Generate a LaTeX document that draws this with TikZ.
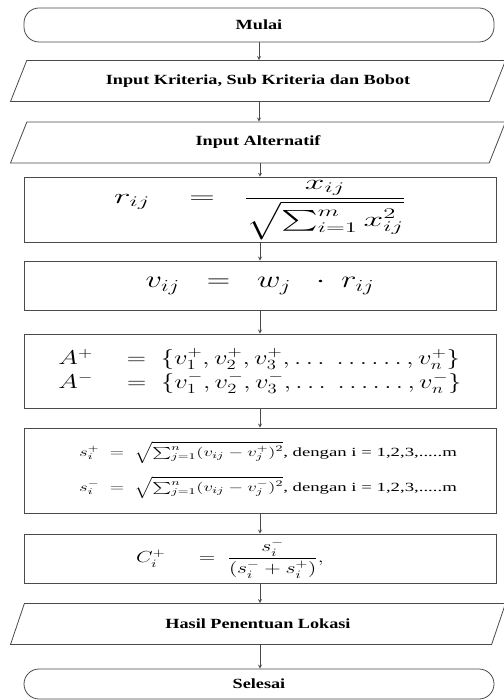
\documentclass[tikz,border=0pt]{standalone}
\usepackage{fix-cm}
\usepackage{amsmath}
\usepackage{graphicx}
\usepackage{fontspec}
\setmainfont{Liberation Serif}
\usepackage{tikz}
\usetikzlibrary{shapes.geometric}
\definecolor{garisAbu}{HTML}{4A4A4A}
% stretch text sideways, as the flowchart prints it
\newcommand{\lebar}[2][1.3]{\scalebox{#1}[1]{#2}}

\begin{document}
\begin{tikzpicture}[x=1pt,y=-1pt,>=stealth,
  terminal/.style={draw=garisAbu, line width=0.8pt, rounded corners=15pt,
    minimum width=470pt, minimum height=#1, font=\fontsize{14}{16}\selectfont\bfseries},
  masukan/.style={draw=garisAbu, line width=0.8pt, trapezium, trapezium left angle=50,
    trapezium right angle=130, trapezium stretches body, minimum width=495pt,
    minimum height=41pt, font=\fontsize{14}{16}\selectfont\bfseries},
  proses/.style={draw=garisAbu, line width=0.8pt, minimum width=472pt, minimum height=#1},
  panah/.style={->, garisAbu, line width=0.8pt}]
  \useasboundingbox (0,0) rectangle (503,700);
  % ---- start and inputs ----
  \node[terminal=34pt] (mulai) at (259,25) {\lebar{Mulai}};
  \node[masukan] (kriteria) at (258,81) {\lebar{Input Kriteria, Sub Kriteria dan Bobot}};
  \node[masukan] (alternatif) at (258,142.5) {\lebar{Input Alternatif}};
  % ---- TOPSIS steps ----
  \node[proses=62pt, font=\fontsize{21}{24}\selectfont] (normal) at (260,210)
    {\lebar[1.68]{$r_{ij} \;\;\;=\;\; \dfrac{x_{ij}}{\sqrt{\textstyle\sum_{i=1}^{m} x_{ij}^{2}}}$}};
  \node[proses=49pt, font=\fontsize{24}{28}\selectfont] (bobot) at (260,285.5)
    {\lebar[1.35]{$v_{ij} \;\;=\;\; w_{j} \;\;\cdot\; r_{ij}$}};
  \node[proses=74pt, font=\fontsize{20}{24}\selectfont, align=left] (ideal) at (260,371)
    {\lebar[1.33]{$A^{+} \quad=\; \{v_1^{+}, v_2^{+}, v_3^{+}, \ldots\;\ldots\ldots, v_n^{+}\}$}\\
     \lebar[1.33]{$A^{-} \quad=\; \{v_1^{-}, v_2^{-}, v_3^{-}, \ldots\;\ldots\ldots, v_n^{-}\}$}};
  \node[proses=85pt, font=\fontsize{12.5}{15}\selectfont, align=center] (jarak) at (260,470.5)
    {\hspace*{16pt}\lebar[1.5]{$s_i^{+} \;=\; \sqrt{\textstyle\sum_{j=1}^{n}(v_{ij}-v_j^{+})^2}$, dengan i = 1,2,3,.....m}\\[12pt]
     \hspace*{16pt}\lebar[1.5]{$s_i^{-} \;=\; \sqrt{\textstyle\sum_{j=1}^{n}(v_{ij}-v_j^{-})^2}$, dengan i = 1,2,3,.....m}};
  \node[proses=49pt, font=\fontsize{16}{19}\selectfont] (pref) at (260,558.5)
    {\lebar[1.35]{$C_i^{+} \quad\;=\; \dfrac{s_i^{-}}{(s_i^{-} + s_i^{+})},$}\kern60pt};
  % ---- output and end ----
  \node[masukan] (hasil) at (258,624) {\lebar{Hasil Penentuan Lokasi}};
  \node[terminal=30pt] (selesai) at (259,684) {\lebar{Selesai}};
  % connectors
  \draw[panah] (mulai.south) -- (mulai.south |- kriteria.north);
  \draw[panah] (kriteria.south -| mulai.south) -- (mulai.south |- alternatif.north);
  \draw[panah] (alternatif.south -| normal.north) -- (normal.north);
  \draw[panah] (normal) -- (bobot);
  \draw[panah] (bobot) -- (ideal);
  \draw[panah] (ideal) -- (jarak);
  \draw[panah] (jarak) -- (pref);
  \draw[panah] (pref.south) -- (pref.south |- hasil.north);
  \draw[panah] (hasil.south -| pref.south) -- (pref.south |- selesai.north);
\end{tikzpicture}
\end{document}
